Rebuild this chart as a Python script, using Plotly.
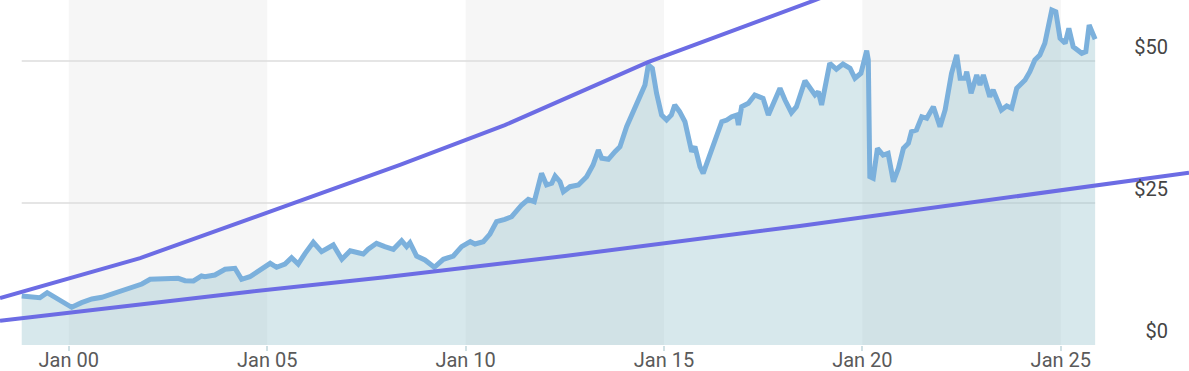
import plotly.graph_objects as go

# ---- data ----
dates = [
    "1998-10-25", "1999-01-10", "1999-04-10", "1999-06-16", "1999-08-28", "1999-11-13",
    "2000-01-28", "2000-04-28", "2000-08-01", "2000-11-01", "2001-02-01", "2001-05-01",
    "2001-08-04", "2001-11-04", "2002-01-19", "2002-04-04", "2002-07-04", "2002-10-04",
    "2002-12-07", "2003-02-22", "2003-05-07", "2003-06-07", "2003-09-07", "2003-12-10",
    "2004-03-10", "2004-05-10", "2004-07-25", "2004-10-10", "2005-01-28", "2005-03-28",
    "2005-06-13", "2005-08-13", "2005-10-13", "2005-12-16", "2006-03-01", "2006-05-16",
    "2006-09-01", "2006-11-19", "2007-02-04", "2007-04-19", "2007-06-04", "2007-07-19",
    "2007-10-04", "2007-12-19", "2008-03-07", "2008-05-22", "2008-07-07", "2008-08-07",
    "2008-10-07", "2008-12-22", "2009-03-19", "2009-06-10", "2009-09-10", "2009-11-25",
    "2010-02-13", "2010-03-28", "2010-06-13", "2010-08-13", "2010-10-13", "2010-12-28",
    "2011-03-01", "2011-06-01", "2011-08-01", "2011-09-25", "2011-12-01", "2012-01-16",
    "2012-03-04", "2012-04-04", "2012-05-19", "2012-06-19", "2012-08-19", "2012-11-04",
    "2013-01-19", "2013-03-19", "2013-05-07", "2013-06-07", "2013-08-07", "2013-10-07",
    "2013-11-22", "2014-01-22", "2014-03-22", "2014-05-25", "2014-07-10", "2014-08-10",
    "2014-09-16", "2014-10-25", "2014-12-10", "2015-01-25", "2015-03-10", "2015-04-10",
    "2015-05-25", "2015-07-13", "2015-08-13", "2015-09-13", "2015-10-13", "2015-11-28",
    "2015-12-28", "2016-02-13", "2016-04-13", "2016-06-16", "2016-08-01", "2016-09-16",
    "2016-11-01", "2016-11-16", "2016-12-16", "2017-01-16", "2017-02-16", "2017-04-16",
    "2017-07-01", "2017-08-19", "2017-10-04", "2017-12-04", "2018-01-19", "2018-03-19",
    "2018-05-04", "2018-07-22", "2018-10-22", "2018-11-22", "2018-12-22", "2019-03-07",
    "2019-05-07", "2019-07-07", "2019-09-10", "2019-10-25", "2019-12-19", "2020-02-10",
    "2020-02-25", "2020-03-10", "2020-04-10", "2020-05-19", "2020-07-10", "2020-08-25",
    "2020-10-13", "2020-11-28", "2021-01-13", "2021-02-28", "2021-03-28", "2021-05-13",
    "2021-07-01", "2021-08-16", "2021-10-16", "2021-12-16", "2022-02-01", "2022-04-01",
    "2022-05-19", "2022-06-19", "2022-08-04", "2022-08-19", "2022-09-28", "2022-11-19",
    "2022-12-19", "2023-01-19", "2023-03-19", "2023-04-19", "2023-07-04", "2023-08-22",
    "2023-10-07", "2023-11-22", "2024-02-07", "2024-03-22", "2024-05-07", "2024-06-22",
    "2024-08-07", "2024-10-10", "2024-11-16", "2024-12-25", "2025-02-10", "2025-03-16",
    "2025-04-25", "2025-07-13", "2025-08-19", "2025-09-19", "2025-11-13",
]
prices = [
    8.63, 8.40, 8.33, 9.21, 8.40, 7.45,
    6.64, 7.45, 8.10, 8.40, 8.98, 9.68,
    10.26, 10.74, 11.57, 11.67, 11.74, 11.74,
    11.32, 11.27, 12.15, 12.02, 12.32, 13.33,
    13.50, 11.57, 12.02, 13.08, 14.38, 13.68,
    14.26, 15.37, 14.26, 16.14, 18.08, 16.43,
    17.61, 15.09, 16.60, 16.25, 16.02, 16.85,
    17.90, 17.31, 16.85, 18.36, 17.31, 18.01,
    15.67, 14.97, 13.68, 15.09, 15.67, 17.31,
    18.19, 17.78, 18.19, 19.54, 21.71, 22.13,
    22.59, 24.65, 25.65, 25.23, 30.23, 28.17,
    28.47, 29.75, 28.75, 26.99, 27.87, 28.17,
    29.63, 31.69, 34.33, 32.87, 32.69, 34.03,
    34.91, 38.43, 41.08, 44.02, 45.78, 49.30,
    48.71, 44.31, 40.49, 39.61, 40.49, 42.25,
    41.08, 39.31, 36.67, 34.03, 34.91, 31.39,
    30.23, 32.57, 36.09, 39.31, 39.61, 40.19,
    40.49, 38.73, 41.96, 42.25, 42.55, 44.02,
    43.43, 40.49, 42.55, 45.19, 43.13, 40.90,
    41.96, 46.53, 44.02, 44.60, 42.25, 49.60,
    48.54, 49.47, 48.71, 46.96, 47.84, 51.82,
    50.18, 29.63, 29.35, 34.63, 33.45, 33.75,
    28.75, 31.11, 34.63, 35.51, 37.55, 37.85,
    40.19, 39.91, 41.96, 38.43, 41.37, 47.84,
    51.06, 46.96, 46.96, 48.12, 44.31, 47.54,
    45.78, 47.54, 43.72, 44.90, 41.37, 42.08,
    41.67, 45.19, 46.66, 48.12, 50.18, 51.06,
    53.12, 58.98, 58.68, 54.00, 53.12, 55.76,
    52.52, 51.36, 51.64, 56.34, 53.82,
]

upper_dates = ["1998-04-08", "2001-10-19", "2008-05-07", "2010-12-28", "2014-08-07", "2018-10-22", "2028-03-26"]
upper_vals = [8.27, 15.3, 31.7, 38.7, 49.8, 60.7, 87.7]

lower_dates = ["1998-04-08", "2004-07-25", "2007-12-19", "2012-07-04", "2018-06-04", "2026-02-10", "2028-03-26"]
lower_vals = [4.28, 9.38, 11.92, 15.67, 20.95, 28.29, 30.34]

band_starts = ["2000-01-01", "2010-01-01", "2020-01-01"]
band_ends = ["2005-01-01", "2015-01-01", "2025-01-01"]
grid_vals = [25, 50]
y_ticks = [0, 25, 50]
y_labels = ["$0", "$25", "$50"]

x_range = ["1998-04-08", "2028-03-26"]
y_range = [0, 60.74]

# ---- figure ----
fig = go.Figure()

fig.add_trace(go.Scatter(
    x=dates, y=prices, mode="lines",
    line=dict(color="#7bb0dc", width=5),
    fill="tozeroy", fillcolor="rgba(150,195,205,0.38)",
    hoverinfo="skip", showlegend=False,
))
fig.add_trace(go.Scatter(
    x=upper_dates, y=upper_vals, mode="lines",
    line=dict(color="#6c6ce4", width=4),
    hoverinfo="skip", showlegend=False,
))
fig.add_trace(go.Scatter(
    x=lower_dates, y=lower_vals, mode="lines",
    line=dict(color="#6c6ce4", width=4),
    hoverinfo="skip", showlegend=False,
))

shapes = []
for s, e in zip(band_starts, band_ends):
    shapes.append(dict(type="rect", xref="x", yref="y", x0=s, x1=e,
                       y0=y_range[0], y1=y_range[1],
                       fillcolor="#f6f6f6", line=dict(width=0), layer="below"))
for g in grid_vals:
    shapes.append(dict(type="line", xref="x", yref="y", x0=dates[0], x1=dates[-1],
                       y0=g, y1=g, line=dict(color="#dcdcdc", width=1.5), layer="below"))

fig.update_layout(
    width=1189, height=371,
    margin=dict(l=0, r=0, t=0, b=26, autoexpand=False),
    plot_bgcolor="white", paper_bgcolor="white",
    font=dict(family="Roboto", size=20, color="#5a5a5a"),
    shapes=shapes,
    showlegend=False,
)
fig.update_xaxes(
    type="date", range=x_range, automargin=False,
    tick0="2000-01-01", dtick="M60", tickformat="%b %y",
    ticks="outside", ticklen=5, tickcolor="#cfe0e4", tickwidth=1.5,
    ticklabelstandoff=-8,
    showgrid=False, zeroline=False, showline=False,
)
fig.update_yaxes(
    range=y_range, side="right", automargin=False,
    tickvals=y_ticks, ticktext=y_labels,
    ticks="", ticklabelposition="inside top", ticklabelstandoff=18,
    showgrid=False, zeroline=False, showline=False,
)

fig.write_html("out.html")
